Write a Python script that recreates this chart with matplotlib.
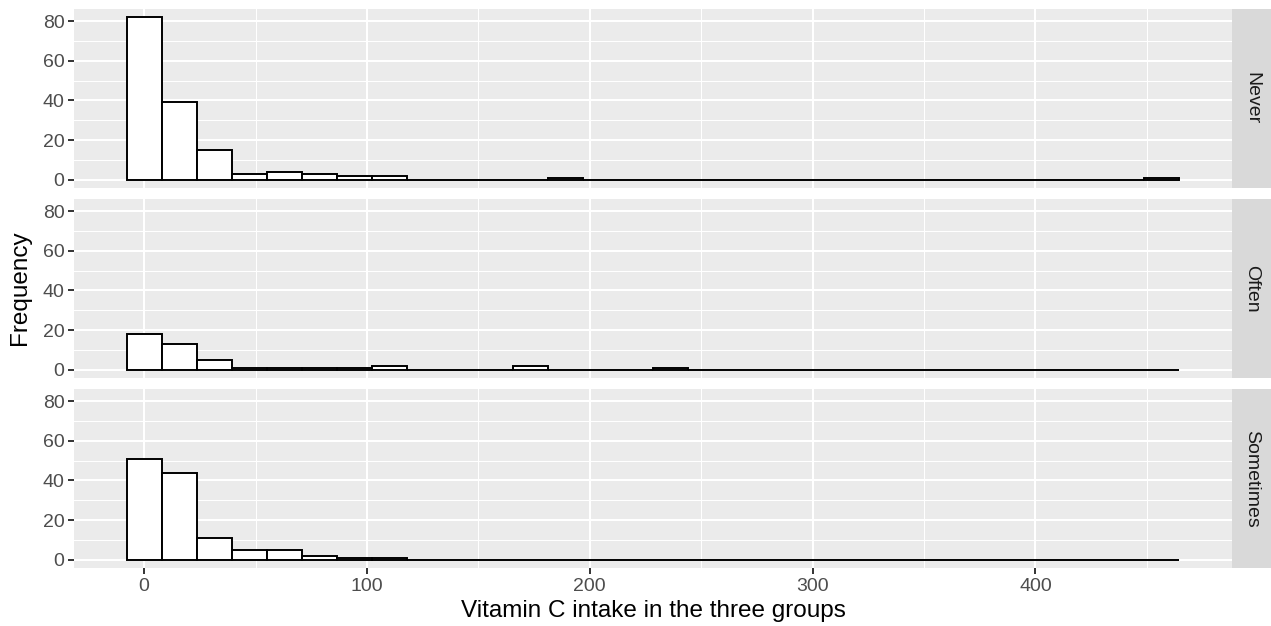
import numpy as np
import matplotlib
matplotlib.use("Agg")
import matplotlib.pyplot as plt

plt.rcParams['font.family'] = ['Liberation Sans', 'DejaVu Sans']

# histogram bins (30 bins, as ggplot computed them)
bin_width = 15.75
bin_first_centre = 0.0
groups = ["Never", "Often", "Sometimes"]
never_counts = [82, 39, 15, 3, 4, 3, 2, 2, 0, 0, 0, 0, 1, 0, 0,
                0, 0, 0, 0, 0, 0, 0, 0, 0, 0, 0, 0, 0, 0, 1]
often_counts = [18, 13, 5, 1, 1, 1, 1, 2, 0, 0, 0, 2, 0, 0, 0,
                1, 0, 0, 0, 0, 0, 0, 0, 0, 0, 0, 0, 0, 0, 0]
sometimes_counts = [51, 44, 11, 5, 5, 2, 1, 1, 0, 0, 0, 0, 0, 0, 0,
                    0, 0, 0, 0, 0, 0, 0, 0, 0, 0, 0, 0, 0, 0, 0]
all_counts = [never_counts, often_counts, sometimes_counts]

x_ticks = [0, 100, 200, 300, 400]
y_ticks = [0, 20, 40, 60, 80]

n_bins = len(never_counts)
lefts = bin_first_centre - bin_width / 2 + bin_width * np.arange(n_bins)
xmin, xmax = lefts[0], lefts[-1] + bin_width
xpad = 0.05 * (xmax - xmin)
ymax = max(max(c) for c in all_counts)
ypad = 0.05 * ymax

W, H = 1271, 626
fig = plt.figure(figsize=(W / 100, H / 100), dpi=100)

panel_left, panel_right = 74, 1232
panel_tops = [9, 199, 389]
panel_h = 179
strip_w = 39

for i, (name, counts) in enumerate(zip(groups, all_counts)):
    top = panel_tops[i]
    ax = fig.add_axes([panel_left / W, 1 - (top + panel_h) / H,
                       (panel_right - panel_left) / W, panel_h / H])
    ax.set_facecolor('#EBEBEB')
    ax.set_xlim(xmin - xpad, xmax + xpad)
    ax.set_ylim(-ypad, ymax + ypad)
    ax.set_xticks(x_ticks)
    ax.set_xticks([t + 50 for t in x_ticks], minor=True)
    ax.set_yticks(y_ticks)
    ax.set_yticks([t + 10 for t in y_ticks[:-1]], minor=True)
    ax.grid(which='major', color='white', linewidth=1.5)
    ax.grid(which='minor', color='white', linewidth=0.75)
    ax.set_axisbelow(True)
    for s in ax.spines.values():
        s.set_visible(False)
    ax.tick_params(which='minor', length=0)
    ax.tick_params(which='major', length=4.4, width=1.4, color='#333333',
                   labelcolor='#4D4D4D', labelsize=14, pad=2.5)
    ax.bar(lefts, counts, width=bin_width, align='edge', facecolor='white',
           edgecolor='black', linewidth=1.4, zorder=3)
    if i < 2:
        ax.tick_params(axis='x', which='both', length=0, labelbottom=False)

    sax = fig.add_axes([panel_right / W, 1 - (top + panel_h) / H,
                        strip_w / W, panel_h / H])
    sax.set_facecolor('#D9D9D9')
    sax.set_xticks([])
    sax.set_yticks([])
    for s in sax.spines.values():
        s.set_visible(False)
    sax.text(0.5, 0.5, name, rotation=-90, ha='center', va='center',
             fontsize=14, color='#1A1A1A', transform=sax.transAxes)

fig.text(20 / W, 1 - 288 / H, "Frequency", rotation=90, ha='center',
         va='center', fontsize=17.5)
fig.text((panel_left + panel_right) / 2 / W, 1 - 611 / H,
         "Vitamin C intake in the three groups", ha='center', va='center',
         fontsize=17.5)

fig.savefig("out.png", dpi=100)
